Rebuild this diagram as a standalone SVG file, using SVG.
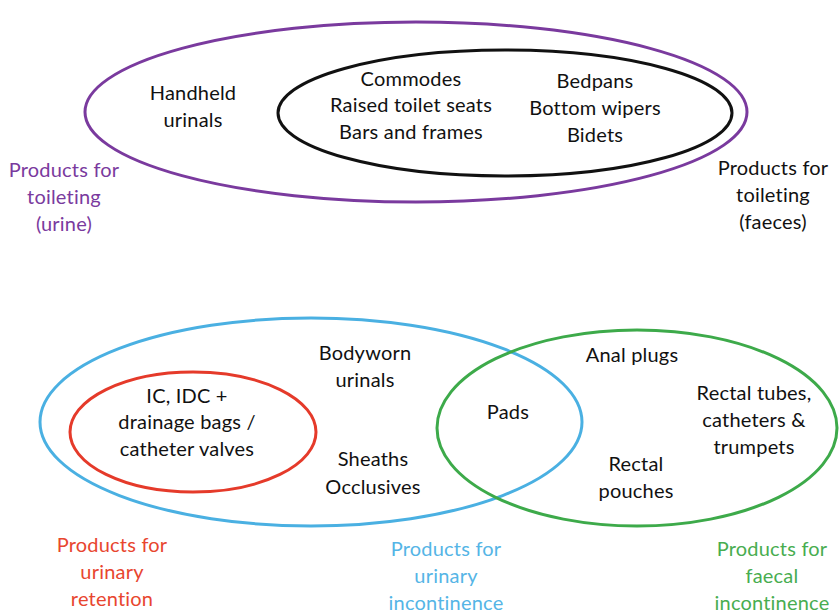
<svg xmlns="http://www.w3.org/2000/svg" width="840" height="616" viewBox="0 0 840 616">
<style>
text{font-family:Lato,"Open Sans","Liberation Sans",sans-serif;font-size:20px;text-anchor:middle;fill:#111;font-variant-ligatures:none;letter-spacing:0.2px}
.ring{fill:none;stroke-width:3}
.pu{fill:#7a3a9e}.re{fill:#e8462f}.bl{fill:#55b5e6}.gr{fill:#48ad50}
</style>
<rect width="840" height="616" fill="#fff"/>
<g id="toileting-urine">
<ellipse class="ring" cx="416" cy="112" rx="331" ry="90" stroke="#7a3a9e"/>
<text x="193" y="100">Handheld</text><text x="193" y="127">urinals</text>
<text class="pu" x="64" y="177">Products for</text><text class="pu" x="64" y="204">toileting</text><text class="pu" x="64" y="231">(urine)</text>
</g>
<g id="toileting-faeces">
<ellipse class="ring" cx="505" cy="113" rx="227" ry="63" stroke="#111"/>
<text x="411" y="86">Commodes</text><text x="411" y="112">Raised toilet seats</text><text x="411" y="139">Bars and frames</text>
<text x="595" y="88">Bedpans</text><text x="595" y="115">Bottom wipers</text><text x="595" y="142">Bidets</text>
<text x="773" y="175">Products for</text><text x="773" y="202">toileting</text><text x="773" y="229">(faeces)</text>
</g>
<g id="urinary-incontinence">
<ellipse class="ring" cx="311" cy="422" rx="271" ry="104" stroke="#4ab0e2"/>
<text x="365" y="360">Bodyworn</text><text x="365" y="387">urinals</text>
<text x="373" y="466">Sheaths</text><text x="373" y="494">Occlusives</text>
<text class="bl" x="446" y="556">Products for</text><text class="bl" x="446" y="583">urinary</text><text class="bl" x="446" y="610">incontinence</text>
</g>
<g id="urinary-retention">
<ellipse class="ring" cx="193" cy="432" rx="123" ry="60" stroke="#e53a2a"/>
<text x="187" y="403">IC, IDC +</text><text x="187" y="429">drainage bags /</text><text x="187" y="456">catheter valves</text>
<text class="re" x="112" y="552">Products for</text><text class="re" x="112" y="579">urinary</text><text class="re" x="112" y="606">retention</text>
</g>
<g id="faecal-incontinence">
<ellipse class="ring" cx="637" cy="428" rx="200" ry="98" stroke="#3daa4a"/>
<text x="632" y="362">Anal plugs</text>
<text x="754" y="400">Rectal tubes,</text><text x="754" y="427">catheters &amp;</text><text x="754" y="454">trumpets</text>
<text x="636" y="471">Rectal</text><text x="636" y="498">pouches</text>
<text class="gr" x="772" y="556">Products for</text><text class="gr" x="772" y="583">faecal</text><text class="gr" x="772" y="610">incontinence</text>
</g>
<g id="shared"><text x="508" y="419">Pads</text></g>
<g id="connectors"></g>
</svg>
